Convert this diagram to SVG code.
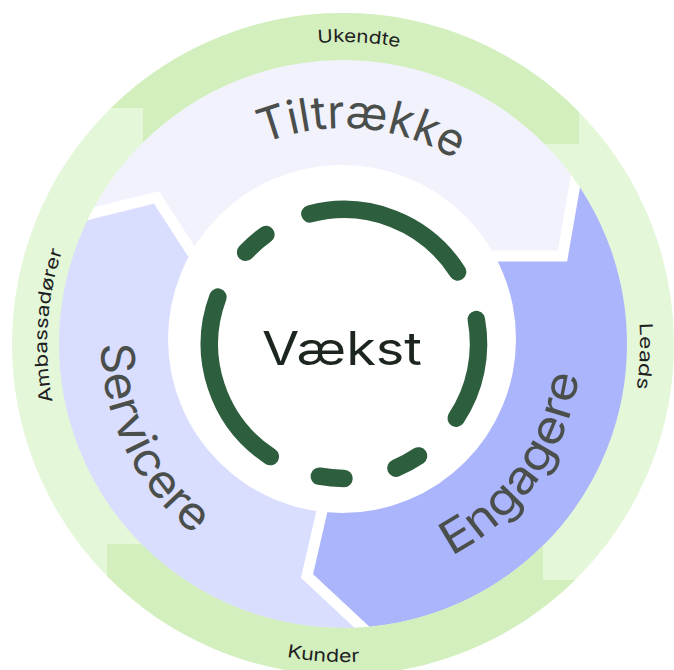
<svg xmlns="http://www.w3.org/2000/svg" width="674" height="670" viewBox="0 0 674 670">
  <defs>
    <clipPath id="bandClip"><circle cx="343" cy="344" r="290"/></clipPath>
    <path id="pTil" d="M134.2,288.8 A216,216 0 0 1 558.1,324.4"/>
    <path id="pSer" d="M200.8,148.2 A242,242 0 0 0 409.7,576.6"/>
    <path id="pEng" d="M241.7,559.3 A238,238 0 0 0 511.9,176.3"/>
    <path id="pUke" d="M89.7,179.5 A302,302 0 0 1 612.1,206.9"/>
    <path id="pLea" d="M501.7,92.9 A297,297 0 0 1 481.0,607.0"/>
    <path id="pKun" d="M58.2,485.4 A318,318 0 0 0 607.9,520.0"/>
    <path id="pAmb" d="M179.2,590.5 A296,296 0 0 1 211.4,78.9"/>
    <style>
      .band { font-family: Inter, "Liberation Sans", sans-serif; font-size: 46px; font-weight: 400; fill: #4b4f4c; }
      .ring { font-family: Inter, "Liberation Sans", sans-serif; font-size: 18px; fill: #1e221f; }
      .gap { fill: none; stroke: #ffffff; stroke-width: 11; stroke-linejoin: miter; }
      .dash { fill: none; stroke: #2d5e3e; stroke-width: 17.5; stroke-linecap: round; }
      .dark { fill: #d3efbd; }
    </style>
  </defs>
  <rect width="674" height="670" fill="#ffffff"/>

  <g id="band" clip-path="url(#bandClip)">
    <g id="tiltraekke-shape"><path fill="#f2f2fd" d="M0,236 L156.5,197.5 L230,311 L342,339 L440,256 L562.5,256 L589.6,100 L674,0 L0,0 Z"/></g>
    <g id="engagere-shape"><path fill="#abb5fc" d="M342,339 L440,256 L562.5,256 L589.6,100 L674,100 L674,670 L407.7,670 L307,576 L331.4,470 Z"/></g>
    <g id="servicere-shape"><path fill="#d9ddfe" d="M342,339 L331.4,470 L307,576 L407.7,670 L0,670 L0,236 L156.5,197.5 L230,311 Z"/></g>
    <g id="connectors">
      <polyline class="gap" points="0,236 156.5,197.5 230,311"/>
      <polyline class="gap" points="440,256 562.5,256 589.6,100"/>
      <polyline class="gap" points="331.4,470 307,576 407.7,670"/>
    </g>
  </g>

  <g id="outer-ring">
    <circle cx="343" cy="344" r="307.5" fill="none" stroke="#e4f7d9" stroke-width="47"/>
    <path class="dark" d="M110.9,108 L143,108 L143,142.4 A284,284 0 0 1 544.6,144 L579,144 L579,111.9 A331,331 0 0 0 110.9,108 Z"/>
    <path class="dark" d="M141.4,544 L107,544 L107,576.1 A331,331 0 0 0 575.1,580 L543,580 L543,545.6 A284,284 0 0 1 141.4,544 Z"/>
  </g>

  <g id="vaekst">
    <circle cx="342" cy="339" r="174" fill="#ffffff"/>
    <path class="dash" d="M309.9,213.9 A134.5,134.5 0 0 1 457.6,271.9"/>
    <path class="dash" d="M476.3,319.5 A134.5,134.5 0 0 1 456.2,418.2"/>
    <path class="dash" d="M418.6,455.9 A134.5,134.5 0 0 1 395.9,468.1"/>
    <path class="dash" d="M344,478.5 A134.5,134.5 0 0 1 319.3,476.2"/>
    <path class="dash" d="M270.3,456.6 A134.5,134.5 0 0 1 217.9,297.1"/>
    <path class="dash" d="M245.6,252.3 A134.5,134.5 0 0 1 265.9,234.5"/>
    <text x="342" y="365" text-anchor="middle" textLength="160" lengthAdjust="spacingAndGlyphs" style="font-family: Inter, 'Liberation Sans', sans-serif; font-size: 46px; font-weight: 400; fill: #1c261f;">Vækst</text>
  </g>

  <g id="tiltraekke"><text class="band"><textPath href="#pTil" startOffset="50%" text-anchor="middle" textLength="200" lengthAdjust="spacingAndGlyphs">Tiltrække</textPath></text></g>
  <g id="servicere"><text class="band"><textPath href="#pSer" startOffset="50%" text-anchor="middle" textLength="220" lengthAdjust="spacingAndGlyphs">Servicere</textPath></text></g>
  <g id="engagere"><text class="band"><textPath href="#pEng" startOffset="50%" text-anchor="middle" textLength="230" lengthAdjust="spacingAndGlyphs">Engagere</textPath></text></g>

  <g id="ukendte"><text class="ring"><textPath href="#pUke" startOffset="50%" text-anchor="middle" textLength="82" lengthAdjust="spacingAndGlyphs">Ukendte</textPath></text></g>
  <g id="leads"><text class="ring"><textPath href="#pLea" startOffset="50%" text-anchor="middle" textLength="66" lengthAdjust="spacingAndGlyphs">Leads</textPath></text></g>
  <g id="kunder"><text class="ring"><textPath href="#pKun" startOffset="50%" text-anchor="middle" textLength="73" lengthAdjust="spacingAndGlyphs">Kunder</textPath></text></g>
  <g id="ambassadorer"><text class="ring"><textPath href="#pAmb" startOffset="50%" text-anchor="middle" textLength="153" lengthAdjust="spacingAndGlyphs">Ambassadører</textPath></text></g>
</svg>
